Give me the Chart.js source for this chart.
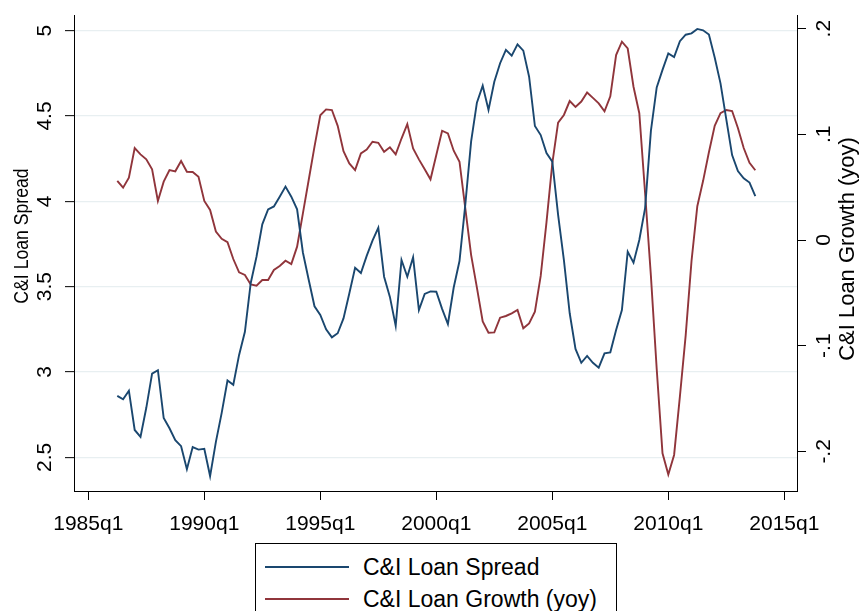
<!DOCTYPE html>
<html>
<head>
<meta charset="utf-8">
<script src="https://cdn.jsdelivr.net/npm/chart.js@4.4.0/dist/chart.umd.min.js"></script>
<style>
  html, body { margin: 0; padding: 0; background: #fff; overflow: hidden; }
  #wrap { position: relative; width: 860px; height: 611px; }
  #legend {
    position: absolute; left: 255px; top: 543px; width: 360px; height: 100px;
    border: 1px solid #000; background: #fff;
    font-family: "Liberation Sans", Arial, sans-serif; font-size: 23px; color: #000;
  }
  .item { position: absolute; left: 9px; height: 30px; display: flex; align-items: center; white-space: nowrap; }
  .swatch { width: 84px; height: 2px; margin-right: 14px; }
</style>
</head>
<body>
<div id="wrap">
  <canvas id="chart" width="860" height="611"></canvas>
  <div id="legend"></div>
</div>
<script>
// C&I loan spread (left axis) and C&I loan growth, yoy (right axis), quarterly 1986q2-2013q4
const firstYear = 1986;
const firstQuarter = 2;

const spread = [
  2.86, 2.84, 2.89, 2.66, 2.62, 2.79, 2.99, 3.01, 2.73, 2.67,
  2.60, 2.565, 2.43, 2.56, 2.545, 2.55, 2.39, 2.59, 2.76, 2.95,
  2.925, 3.10, 3.235, 3.52, 3.675, 3.865, 3.953, 3.97, 4.027, 4.086,
  4.027, 3.953, 3.70, 3.54, 3.385, 3.334, 3.25, 3.203, 3.227, 3.314,
  3.46, 3.61, 3.58, 3.68, 3.77, 3.845, 3.558, 3.44, 3.27, 3.656,
  3.558, 3.672, 3.363, 3.457, 3.472, 3.47, 3.37, 3.281, 3.495, 3.65,
  3.98, 4.349, 4.578, 4.677, 4.535, 4.70, 4.809, 4.887, 4.853, 4.92,
  4.883, 4.73, 4.441, 4.388, 4.283, 4.232, 3.92, 3.656, 3.344, 3.135,
  3.054, 3.094, 3.054, 3.025, 3.109, 3.115, 3.246, 3.363, 3.705, 3.64,
  3.773, 3.96, 4.413, 4.667, 4.77, 4.867, 4.845, 4.938, 4.976, 4.984,
  5.01, 5.002, 4.977, 4.843, 4.691, 4.48, 4.271, 4.177, 4.135, 4.11,
  4.031
];

const growth = [
  0.056, 0.0495, 0.059, 0.087, 0.081, 0.0763, 0.0669, 0.0369, 0.0552, 0.0662,
  0.065, 0.0747, 0.0646, 0.0643, 0.0599, 0.037, 0.0284, 0.008, 0.0012, -0.002,
  -0.018, -0.0306, -0.0331, -0.042, -0.0432, -0.0378, -0.0378, -0.0284, -0.0246, -0.0196,
  -0.0227, -0.0063, 0.0252, 0.0568, 0.0883, 0.118, 0.1236, 0.123, 0.108, 0.084,
  0.0725, 0.0662, 0.082, 0.0855, 0.093, 0.092, 0.0835, 0.0877, 0.081, 0.096,
  0.1097, 0.0867, 0.0763, 0.0669, 0.0574, 0.0804, 0.1034, 0.1009, 0.0845, 0.0741,
  0.030, -0.014, -0.045, -0.077, -0.0877, -0.0874, -0.0735, -0.0719, -0.0694, -0.0662,
  -0.0836, -0.079, -0.0678, -0.034, 0.017, 0.0725, 0.111, 0.1183, 0.1315, 0.126,
  0.131, 0.1395, 0.1345, 0.1293, 0.1217, 0.136, 0.175, 0.1876, 0.1812, 0.145,
  0.12, 0.0442, -0.034, -0.122, -0.2018, -0.222, -0.2034, -0.148, -0.09, -0.02,
  0.032, 0.056, 0.083, 0.108, 0.12, 0.123, 0.122, 0.106, 0.087, 0.073,
  0.066
];

const xTicks = [1985, 1990, 1995, 2000, 2005, 2010, 2015];
const spreadTicks = [2.5, 3, 3.5, 4, 4.5, 5];
const growthTicks = [-0.2, -0.1, 0, 0.1, 0.2];

// quarter labels like 1986q2
const quarters = spread.map((_, i) => {
  const n = firstQuarter - 1 + i;
  return (firstYear + Math.floor(n / 4)) + 'q' + (n % 4 + 1);
});

function toTime(label) {
  const parts = label.split('q');
  return Number(parts[0]) + (Number(parts[1]) - 1) / 4;
}

// stata style: ".2", "-.1"
function stataNum(v) {
  return String(v).replace(/^(-?)0\./, '$1.');
}

const FONT = '"Liberation Sans", Arial, sans-serif';
Chart.defaults.font.family = FONT;
Chart.defaults.color = '#000';

const gridColor = 'rgb(232,239,241)';

// rotated y axis titles (squeeze = condense along the text)
function drawTitle(ctx, text, size, x, y, squeeze) {
  ctx.save();
  ctx.fillStyle = '#000';
  ctx.font = size + 'px ' + FONT;
  ctx.textAlign = 'center';
  ctx.textBaseline = 'middle';
  ctx.translate(x, y);
  ctx.rotate(-Math.PI / 2);
  ctx.scale(squeeze, 1);
  ctx.fillText(text, 0, 0);
  ctx.restore();
}

const axisTitles = {
  id: 'axisTitles',
  afterDraw(chart) {
    drawTitle(chart.ctx, 'C&I Loan Spread', 21, 22, 236, 0.84);
    drawTitle(chart.ctx, 'C&I Loan Growth (yoy)', 22, 848, 249, 1);
  }
};

function noPad(scale) {
  scale.paddingTop = 0;
  scale.paddingBottom = 0;
  scale.paddingLeft = 0;
  scale.paddingRight = 0;
}

const chart = new Chart(document.getElementById('chart').getContext('2d'), {
  type: 'line',
  data: {
    datasets: [
      {
        label: 'C&I Loan Spread',
        data: quarters.map((q, i) => ({ x: toTime(q), y: spread[i] })),
        borderColor: '#1a476f',
        borderWidth: 1.9,
        pointRadius: 0,
        tension: 0,
        yAxisID: 'y'
      },
      {
        label: 'C&I Loan Growth (yoy)',
        data: quarters.map((q, i) => ({ x: toTime(q), y: growth[i] })),
        borderColor: '#90353b',
        borderWidth: 1.9,
        pointRadius: 0,
        tension: 0,
        yAxisID: 'y2'
      }
    ]
  },
  options: {
    responsive: false,
    animation: false,
    layout: { padding: { top: 15, left: 0, right: 0, bottom: 0 } },
    plugins: { legend: { display: false }, tooltip: { enabled: false } },
    scales: {
      x: {
        type: 'linear',
        position: 'bottom',
        min: 1984.384,
        max: 2015.547,
        afterBuildTicks: s => { s.ticks = xTicks.map(v => ({ value: v })); },
        afterFit: s => { s.height = 120; noPad(s); },
        grid: { drawOnChartArea: false, drawTicks: true, tickLength: 9, tickColor: '#000', lineWidth: 1 },
        border: { display: true, color: '#000', width: 1 },
        ticks: { callback: v => v + 'q1', font: { size: 21 }, padding: 12, maxRotation: 0, autoSkip: false }
      },
      y: {
        position: 'left',
        min: 2.3025,
        max: 5.0916,
        afterBuildTicks: s => { s.ticks = spreadTicks.map(v => ({ value: v })); },
        afterFit: s => { s.width = 74; noPad(s); },
        grid: { color: gridColor, lineWidth: 1.3, tickLength: 9, tickColor: '#000', tickWidth: 1 },
        border: { display: true, color: '#000', width: 1 },
        ticks: { callback: v => String(v), font: { size: 21 }, minRotation: 90, maxRotation: 90, crossAlign: 'center', padding: 5 }
      },
      y2: {
        position: 'right',
        min: -0.2375,
        max: 0.2129,
        afterBuildTicks: s => { s.ticks = growthTicks.map(v => ({ value: v })); },
        afterFit: s => { s.width = 63; noPad(s); },
        grid: { drawOnChartArea: false, tickLength: 9, tickColor: '#000', tickWidth: 1 },
        border: { display: true, color: '#000', width: 1 },
        ticks: { callback: v => stataNum(v), font: { size: 21 }, minRotation: 90, maxRotation: 90, crossAlign: 'center', padding: 6 }
      }
    }
  },
  plugins: [axisTitles]
});

// legend box below the plot, one entry per row
const legendBox = document.getElementById('legend');
chart.data.datasets.forEach((ds, i) => {
  const item = document.createElement('div');
  item.className = 'item';
  item.style.top = (8 + i * 32) + 'px';
  item.innerHTML = `<span class="swatch" style="background:${ds.borderColor}"></span><span>${ds.label}</span>`;
  legendBox.appendChild(item);
});
</script>
</body>
</html>
